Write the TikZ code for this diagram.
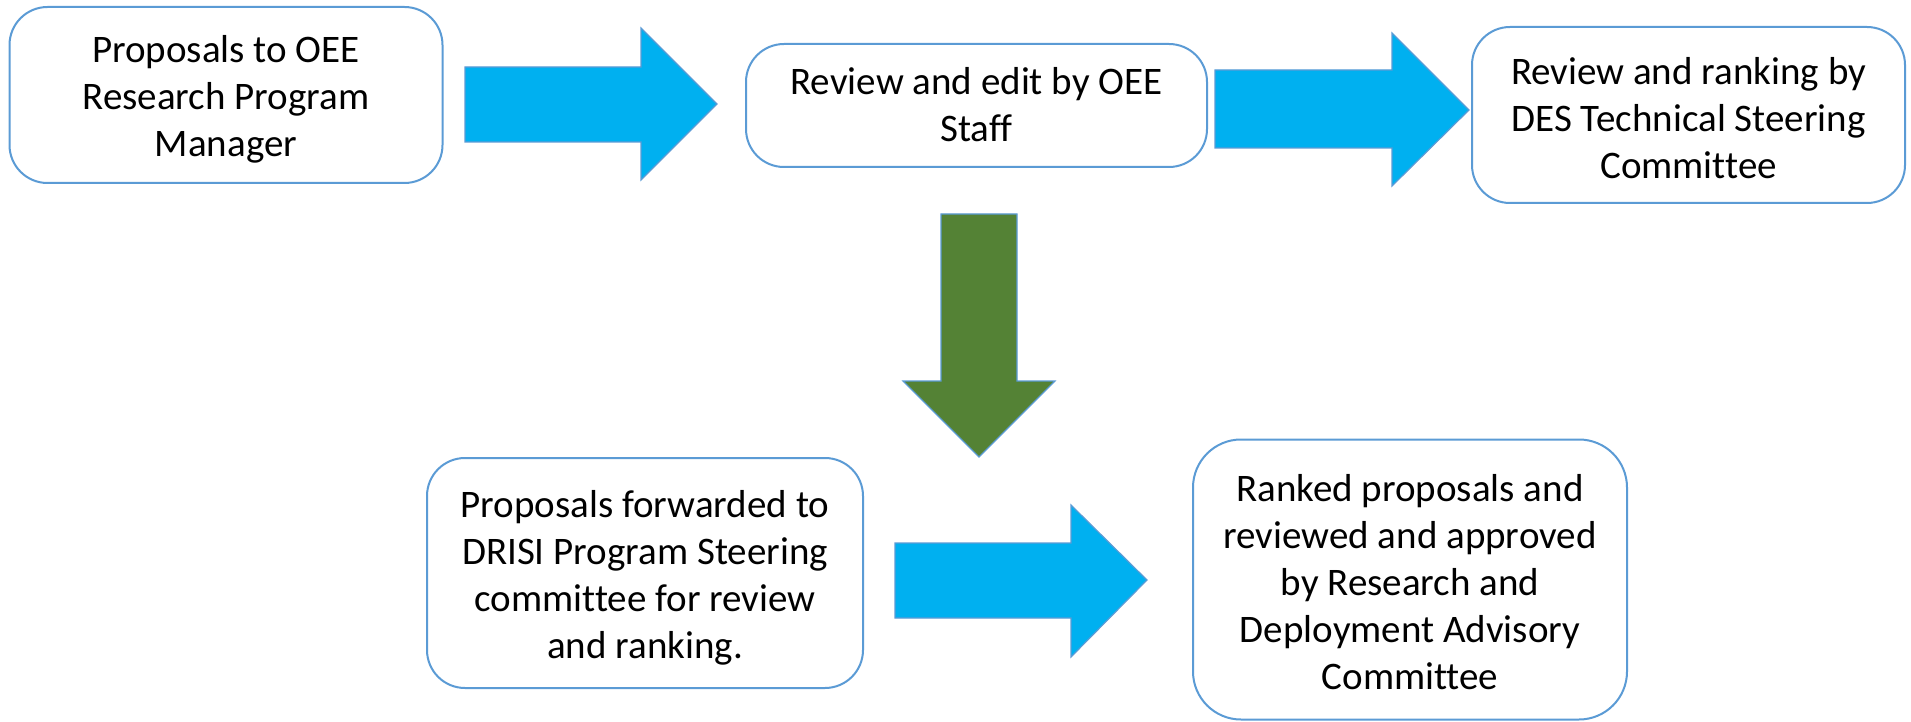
\documentclass[tikz,border=0pt]{standalone}
\usepackage{fontspec}
\setmainfont[Ligatures=CommonOff]{Carlito}
\definecolor{boxline}{HTML}{5B9BD5}
\definecolor{flowblue}{HTML}{00B0F0}
\definecolor{flowgreen}{HTML}{548235}
\begin{document}
\begin{tikzpicture}[x=1pt,y=-1pt,
  stepbox/.style={draw=boxline, line width=2pt, rounded corners=38pt, fill=white},
  steptext/.style={align=center, inner sep=0pt, font=\fontsize{39}{47}\selectfont},
  blockarrow/.style={fill=#1, draw=boxline, line width=1.2pt, line join=miter}]
\useasboundingbox (0,0) rectangle (1911,722);

% process steps (frames)
\node[stepbox, minimum width=433pt, minimum height=176pt] (b1) at (226,95) {};
\node[stepbox, minimum width=461pt, minimum height=123pt] (b2) at (976.5,105.5) {};
\node[stepbox, minimum width=433pt, minimum height=176pt] (b3) at (1688.5,115) {};
\node[stepbox, minimum width=436pt, minimum height=230pt] (b4) at (645,573) {};
\node[stepbox, minimum width=434pt, minimum height=280pt, rounded corners=48pt] (b5) at (1410,579.5) {};

% step texts
\node[steptext] (t1) at ([yshift=-4.5pt]b1.center) {Proposals to OEE\\Research Program\\Manager};
\node[steptext] (t2) at ([yshift=1pt]b2.center) {Review and edit by OEE\\Staff};
\node[steptext] (t3) at ([yshift=-3pt]b3.center) {Review and ranking by\\DES Technical Steering\\Committee};
\node[steptext] (t4) at ([yshift=-5pt]b4.center) {Proposals forwarded to\\DRISI Program Steering\\committee for review\\and ranking.};
\node[steptext] (t5) at ([yshift=-2.5pt]b5.center) {Ranked proposals and\\reviewed and approved\\by Research and\\Deployment Advisory\\Committee};

% block arrows between the steps
\draw[blockarrow=flowblue] (465,67) -- (641,67) -- (641,28) -- (717,104)
  -- (641,180) -- (641,142) -- (465,142) -- cycle;
\draw[blockarrow=flowblue] (1215,70) -- (1392,70) -- (1392,33) -- (1469,110)
  -- (1392,186) -- (1392,148) -- (1215,148) -- cycle;
\draw[blockarrow=flowgreen] (941,214) -- (1017,214) -- (1017,381) -- (1055,381)
  -- (979,457) -- (903,381) -- (941,381) -- cycle;
\draw[blockarrow=flowblue] (895,543) -- (1071,543) -- (1071,505) -- (1147,580)
  -- (1071,657) -- (1071,618) -- (895,618) -- cycle;
\end{tikzpicture}
\end{document}
